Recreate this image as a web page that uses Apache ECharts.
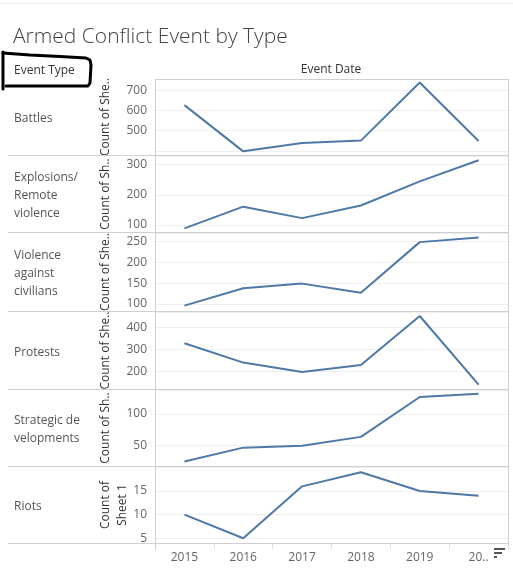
<!DOCTYPE html>
<html><head><meta charset="utf-8">
<script src="https://cdn.jsdelivr.net/npm/echarts@6/dist/echarts.min.js"></script>
<style>html,body{margin:0;padding:0;background:#fff}#c{width:513px;height:578px}</style>
</head><body><div id="c"></div><script>
// ---- data ----
const years = ['2015', '2016', '2017', '2018', '2019', '20..'];
const eventTypes = ['Battles', 'Explosions/\nRemote\nviolence', 'Violence\nagainst\ncivilians', 'Protests', 'Strategic de\nvelopments', 'Riots'];
const axisNames = ['Count of She..', 'Count of Sh..', 'Count of She..', 'Count of She..', 'Count of Sh..', 'Count of\nSheet 1'];
const battles = [626, 398, 439, 451, 738, 449];
const explosions = [89, 161, 123, 165, 245, 315];
const violence = [96, 138, 149, 127, 249, 260];
const protests = [327, 240, 198, 229, 450, 141];
const strategic = [25, 47, 50, 64, 127, 132];
const riots = [10, 5, 16, 19, 15, 14];
// y-axis tick labels shown and axis extents
const ticksBattles = [500, 600, 700];
const ticksExplosions = [100, 200, 300];
const ticksViolence = [100, 150, 200, 250];
const ticksProtests = [200, 300, 400];
const ticksStrategic = [50, 100];
const ticksRiots = [5, 10, 15];
const extBattles = [380, 755];
const extExplosions = [77, 329];
const extViolence = [83, 271];
const extProtests = [121, 468];
const extStrategic = [18, 138];
const extRiots = [4, 20.1];
const stepBattles = 100, stepExplosions = 100, stepViolence = 50, stepProtests = 100, stepStrategic = 50, stepRiots = 5;

// ---- layout ----
const FONT = 'Open Sans';
const series = [battles, explosions, violence, protests, strategic, riots];
const ticks = [ticksBattles, ticksExplosions, ticksViolence, ticksProtests, ticksStrategic, ticksRiots];
const exts = [extBattles, extExplosions, extViolence, extProtests, extStrategic, extRiots];
const steps = [stepBattles, stepExplosions, stepViolence, stepProtests, stepStrategic, stepRiots];
const tops = [79, 156, 233, 312, 390, 467];
const heights = [76, 76, 78, 77, 76, 76];
const PL = 155, PR = 508;

const grids = [], xAxes = [], yAxes = [], ser = [], graphics = [];
for (let i = 0; i < 6; i++) {
  const last = i === 5;
  grids.push({ left: PL, width: PR - PL, top: tops[i], height: heights[i], containLabel: false });
  xAxes.push({
    type: 'category', gridIndex: i, data: years, boundaryGap: true,
    axisLine: { show: false },
    axisTick: { show: last, length: 6, lineStyle: { color: '#e2e2e2' } },
    axisLabel: { show: last, color: '#666', fontSize: 12, fontFamily: FONT, margin: 9, interval: 0 },
    splitLine: { show: false }
  });
  const tk = ticks[i];
  yAxes.push({
    type: 'value', gridIndex: i, min: exts[i][0], max: exts[i][1],
    minInterval: steps[i], maxInterval: steps[i], splitNumber: 4,
    name: axisNames[i], nameLocation: 'middle', nameGap: last ? 24 : 41, nameRotate: 90,
    nameMoveOverlap: false,
    nameTextStyle: { color: '#333', fontSize: 12, fontFamily: FONT, lineHeight: 17 },
    axisLine: { show: false }, axisTick: { show: false },
    axisLabel: { color: '#666', fontSize: 12, fontFamily: FONT, margin: 8,
      showMinLabel: true, showMaxLabel: true,
      formatter: v => (tk.indexOf(Math.round(v * 100) / 100) >= 0 ? String(v) : '') },
    splitLine: { show: true, lineStyle: { color: '#efefef', width: 1 } }
  });
  ser.push({
    type: 'line', xAxisIndex: i, yAxisIndex: i, data: series[i],
    symbol: 'none', lineStyle: { color: '#4e79a7', width: 2 }, itemStyle: { color: '#4e79a7' }
  });
  graphics.push({
    type: 'text', x: 14, y: tops[i] + heights[i] / 2 + 2, z: 10,
    style: { text: eventTypes[i], fill: '#555', font: '12px "' + FONT + '"', lineHeight: 18, textVerticalAlign: 'middle' }
  });
}
const sep = '#cfcfcf';
for (let i = 0; i < 6; i++) {
  const y = tops[i] + heights[i] + 0.5;
  graphics.push({ type: 'line', shape: { x1: 8, y1: y, x2: PR, y2: y }, style: { stroke: sep, lineWidth: 1 }, z: 5 });
}
graphics.push(
  { type: 'line', shape: { x1: PL, y1: 79.5, x2: PR, y2: 79.5 }, style: { stroke: sep, lineWidth: 1 }, z: 5 },
  { type: 'line', shape: { x1: PL + 0.5, y1: 79, x2: PL + 0.5, y2: 550 }, style: { stroke: sep, lineWidth: 1 }, z: 5 },
  { type: 'line', shape: { x1: PR + 0.5, y1: 79, x2: PR + 0.5, y2: 544 }, style: { stroke: sep, lineWidth: 1 }, z: 5 },
  { type: 'line', shape: { x1: 0, y1: 3.5, x2: 513, y2: 3.5 }, style: { stroke: '#eeeeee', lineWidth: 1 }, z: 5 },
  { type: 'text', x: 14, y: 71, style: { text: 'Event Type', fill: '#333', font: '12px "' + FONT + '"', textVerticalAlign: 'middle' }, z: 10 },
  { type: 'text', x: 331, y: 70, style: { text: 'Event Date', fill: '#333', font: '12px "' + FONT + '"', textAlign: 'center', textVerticalAlign: 'middle' }, z: 10 },
  // hand-drawn annotation box
  { type: 'polyline', z: 11, shape: { points: [[3, 52], [3, 89]] },
    style: { stroke: '#000', lineWidth: 3, fill: null, lineCap: 'round' } },
  { type: 'polyline', z: 11, shape: { points: [[3, 53], [30, 55], [60, 56.5], [86, 58], [90, 60], [91, 65], [90, 83], [88, 86], [6, 86]] },
    style: { stroke: '#000', lineWidth: 3, fill: null, lineCap: 'round', lineJoin: 'round' } },
  // sort icon
  { type: 'rect', shape: { x: 494, y: 548, width: 11, height: 2 }, style: { fill: '#555' }, z: 10 },
  { type: 'rect', shape: { x: 494, y: 552, width: 8, height: 2 }, style: { fill: '#555' }, z: 10 },
  { type: 'rect', shape: { x: 494, y: 556, width: 3, height: 2 }, style: { fill: '#555' }, z: 10 }
);

const chart = echarts.init(document.getElementById('c'), null, { renderer: 'canvas' });
chart.setOption({
  animation: false,
  backgroundColor: '#fff',
  title: { text: 'Armed Conflict Event by Type', left: 8, top: 22,
    textStyle: { fontSize: 21, fontWeight: 300, color: '#444', fontFamily: FONT } },
  grid: grids, xAxis: xAxes, yAxis: yAxes, series: ser, graphic: graphics
});
</script></body></html>
